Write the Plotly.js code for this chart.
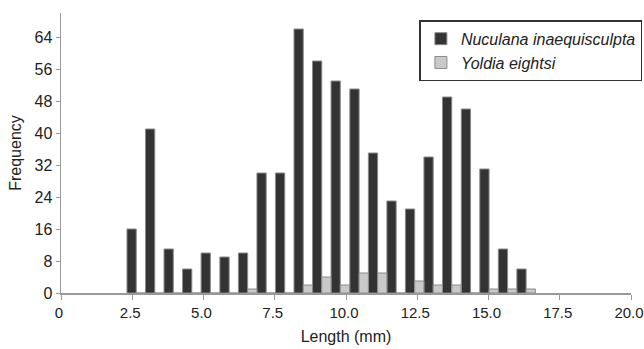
<!DOCTYPE html>
<html>
<head>
<meta charset="utf-8">
<script src="https://cdn.plot.ly/plotly-3.0.1.min.js"></script>
<style>html,body{margin:0;padding:0;background:#fff;}#chart{width:644px;height:349px;}</style>
</head>
<body>
<div id="chart"></div>
<script>
// Bin centres (mm)
var binCentres = [2.64, 3.29, 3.94, 4.59, 5.24, 5.90, 6.55, 7.20, 7.85, 8.50, 9.15,
                  9.80, 10.46, 11.11, 11.76, 12.41, 13.06, 13.71, 14.37, 15.02, 15.67, 16.32];
var nuculana = [16, 41, 11, 6, 10, 9, 10, 30, 30, 66, 58, 53, 51, 35, 23, 21, 34, 49, 46, 31, 11, 6];
var yoldia   = [0, 0, 0, 0, 0, 0, 1, 0, 0, 2, 4, 2, 5, 5, 0, 3, 2, 2, 0, 1, 1, 1];
var xTicks = [0, 2.5, 5, 7.5, 10, 12.5, 15, 17.5, 20];
var xTickText = ['0', '2.5', '5.0', '7.5', '10.0', '12.5', '15.0', '17.5', '20.0'];
var yTicks = [0, 8, 16, 24, 32, 40, 48, 56, 64];

var font = 'Liberation Sans, Arial, sans-serif';
var traces = [
  {type: 'bar', name: 'Nuculana inaequisculpta', x: binCentres, y: nuculana,
   marker: {color: '#333333', line: {color: '#8a8a8a', width: 1}}},
  {type: 'bar', name: 'Yoldia eightsi', x: binCentres, y: yoldia,
   marker: {color: '#c9c9c9', line: {color: '#8a8a8a', width: 1}}}
];
var layout = {
  width: 644, height: 349,
  margin: {l: 61, r: 13, t: 13, b: 56, pad: 0, autoexpand: false},
  paper_bgcolor: '#fff', plot_bgcolor: '#fff',
  barmode: 'group', bargap: 0, bargroupgap: 0,
  font: {family: font, size: 16, color: '#222'},
  showlegend: true,
  legend: {x: 1.02, xanchor: 'right', y: 0.974, yanchor: 'top',
           bgcolor: '#fff', bordercolor: '#333', borderwidth: 1.5,
           font: {family: font, size: 16, color: '#222', style: 'italic'},
           itemwidth: 30, tracegroupgap: 0},
  xaxis: {range: [0, 20], tickvals: xTicks, ticktext: xTickText,
          ticklabeloverflow: 'allow', ticklabelshift: -2,
          showgrid: false, zeroline: false, showline: true, linecolor: '#999', linewidth: 1.5,
          ticks: 'outside', ticklen: 5, tickcolor: '#999', tickwidth: 1,
          tickfont: {family: font, size: 15, color: '#222'},
          title: {text: 'Length (mm)', font: {family: font, size: 16, color: '#222'}, standoff: 11}},
  yaxis: {range: [0, 70], tickvals: yTicks,
          showgrid: false, zeroline: false, showline: true, linecolor: '#999', linewidth: 1.5,
          ticks: 'outside', ticklen: 4, tickcolor: '#999', tickwidth: 1,
          tickfont: {family: font, size: 16, color: '#222'},
          title: {text: 'Frequency', font: {family: font, size: 16, color: '#222'}, standoff: 9}}
};
Plotly.newPlot('chart', traces, layout, {displayModeBar: false, staticPlot: true});
</script>
</body>
</html>
